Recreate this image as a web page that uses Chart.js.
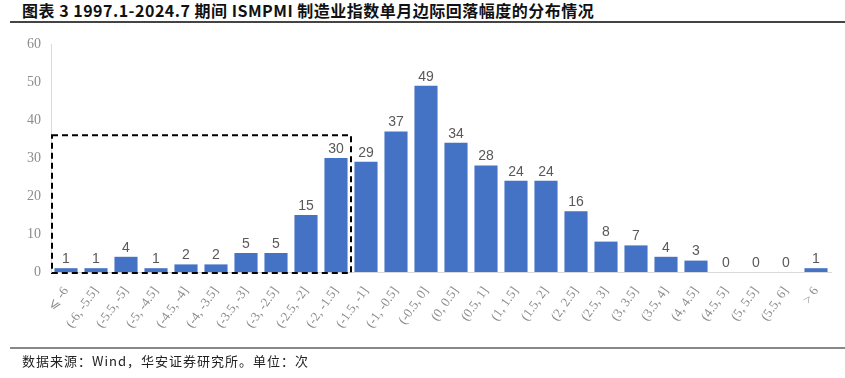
<!DOCTYPE html>
<html>
<head>
<meta charset="utf-8">
<script src="https://cdn.jsdelivr.net/npm/chart.js@4.4.1/dist/chart.umd.min.js"></script>
<style>
  html, body { margin: 0; padding: 0; background: #fff; width: 845px; height: 378px; overflow: hidden; position: relative; }
  #title { position: absolute; left: 22px; top: 0px; font-family: "Noto Sans CJK SC", sans-serif; font-weight: bold; font-size: 16px; letter-spacing: 0.5px; color: #111; white-space: nowrap; line-height: 20px; }
  #topline { position: absolute; left: 10px; right: 0; top: 21px; height: 2px; background: #444; }
  #botline { position: absolute; left: 10px; right: 0; top: 347px; height: 2px; background: #888; }
  #footer { position: absolute; left: 22px; top: 352px; font-family: "Noto Sans CJK SC", sans-serif; font-size: 13px; letter-spacing: 1px; color: #222; white-space: nowrap; line-height: 18px; }
  #wrap { position: absolute; left: 0; top: 0; width: 845px; height: 378px; }
</style>
</head>
<body>
<div id="title">图表 3 1997.1-2024.7 期间 ISMPMI 制造业指数单月边际回落幅度的分布情况</div>
<div id="topline"></div>
<div id="wrap"><canvas id="c"></canvas></div>
<div id="botline"></div>
<div id="footer">数据来源：Wind，华安证券研究所。单位：次</div>
<script>
const categories = ["⩽ -6","(-6, -5.5]","(-5.5, -5]","(-5, -4.5]","(-4.5, -4]","(-4, -3.5]","(-3.5, -3]","(-3, -2.5]","(-2.5, -2]","(-2, -1.5]","(-1.5, -1]","(-1, -0.5]","(-0.5, 0]","(0, 0.5]","(0.5, 1]","(1, 1.5]","(1.5, 2]","(2, 2.5]","(2.5, 3]","(3, 3.5]","(3.5, 4]","(4, 4.5]","(4.5, 5]","(5, 5.5]","(5.5, 6]","> 6"];
const counts = [1,1,4,1,2,2,5,5,15,30,29,37,49,34,28,24,24,16,8,7,4,3,0,0,0,1];
const yTicks = [0,10,20,30,40,50,60];
const boxFirstIndex = 0;
const boxLastIndex = 9;
const boxTopValue = 36;

const labelPlugin = {
  id: 'valueLabels',
  afterDatasetsDraw(chart) {
    const ctx = chart.ctx;
    const meta = chart.getDatasetMeta(0);
    ctx.save();
    ctx.font = '14px "Liberation Sans", Arial, sans-serif';
    ctx.fillStyle = '#595959';
    ctx.textAlign = 'center';
    ctx.textBaseline = 'bottom';
    meta.data.forEach((bar, i) => {
      ctx.fillText(String(counts[i]), bar.x, bar.y - 2);
    });
    ctx.restore();
  }
};

const boxPlugin = {
  id: 'dashBox',
  afterDatasetsDraw(chart) {
    const x = chart.scales.x, y = chart.scales.y;
    const left = x.getPixelForValue(boxFirstIndex) - (x.getPixelForValue(1) - x.getPixelForValue(0)) / 2 + 1;
    const right = (x.getPixelForValue(boxLastIndex) + x.getPixelForValue(boxLastIndex + 1)) / 2;
    const top = y.getPixelForValue(boxTopValue);
    const bottom = y.getPixelForValue(0) + 1;
    const ctx = chart.ctx;
    ctx.save();
    ctx.strokeStyle = '#000';
    ctx.lineWidth = 2;
    ctx.setLineDash([6, 4]);
    ctx.strokeRect(left, top, right - left, bottom - top);
    ctx.restore();
  }
};

new Chart(document.getElementById('c'), {
  type: 'bar',
  data: {
    labels: categories,
    datasets: [{
      data: counts,
      backgroundColor: '#4472C4',
      borderWidth: 0,
      barPercentage: 0.77,
      categoryPercentage: 1.0
    }]
  },
  options: {
    responsive: true,
    maintainAspectRatio: false,
    animation: false,
    layout: { padding: { top: 44, right: 14, left: 0, bottom: 0 } },
    plugins: { legend: { display: false }, tooltip: { enabled: false } },
    scales: {
      x: {
        grid: { display: false, drawTicks: false },
        border: { display: true, color: '#d9d9d9', width: 1 },
        ticks: {
          color: '#8c8c8c',
          font: { family: '"Liberation Serif", "Times New Roman", serif', size: 13 },
          maxRotation: 55, minRotation: 55,
          padding: 12,
          autoSkip: false
        },
        afterFit(scale) { scale.height = 106; }
      },
      y: {
        min: 0, max: 60,
        afterBuildTicks(scale) { scale.ticks = yTicks.map(v => ({ value: v })); },
        grid: { display: false, drawTicks: false },
        border: { display: true, color: '#d9d9d9', width: 1 },
        ticks: {
          color: '#8c8c8c',
          font: { family: '"Liberation Serif", "Times New Roman", serif', size: 14 },
          padding: 10
        },
        afterFit(scale) { scale.width = 51; }
      }
    }
  },
  plugins: [labelPlugin, boxPlugin]
});
</script>
</body>
</html>
